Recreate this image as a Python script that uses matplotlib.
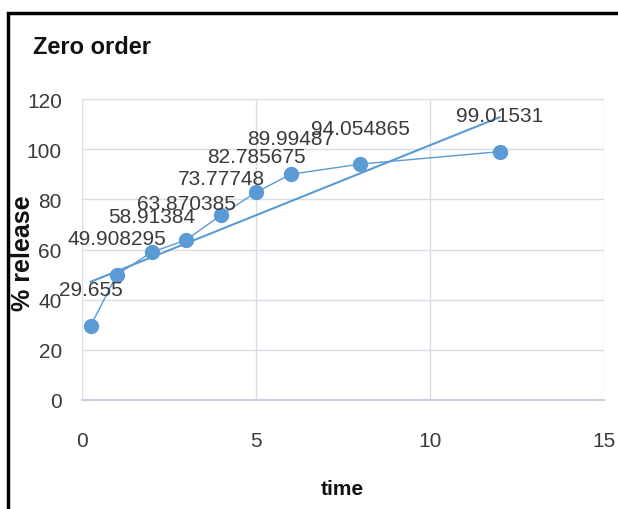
import numpy as np
import matplotlib
matplotlib.use("Agg")
import matplotlib.pyplot as plt
from matplotlib.lines import Line2D

# Release data
time = [0.25, 1, 2, 3, 4, 5, 6, 8, 12]
release = [29.655, 49.908295, 58.91384, 63.870385, 73.77748,
           82.785675, 89.99487, 94.054865, 99.01531]
value_labels = ["29.655", "49.908295", "58.91384", "63.870385", "73.77748",
                "82.785675", "89.99487", "94.054865", "99.01531"]
x_ticks = [0, 5, 10, 15]
y_ticks = [0, 20, 40, 60, 80, 100, 120]

num_font = ["Liberation Sans", "DejaVu Sans"]
bold_font = ["Liberation Sans", "DejaVu Sans"]
blue = "#5b9bd5"
grid_c = "#d9dde6"
text_c = "#3a3a3a"

fig = plt.figure(figsize=(6.18, 5.10), dpi=100)
ax = fig.add_axes([82 / 618, 1 - 401 / 510, (604 - 82) / 618, (401 - 100) / 510])

ax.set_xlim(0, 15)
ax.set_ylim(0, 120)
ax.set_xticks(x_ticks)
ax.set_yticks(y_ticks)
ax.grid(True, color=grid_c, linewidth=1.0)
ax.set_axisbelow(True)
for s in ax.spines.values():
    s.set_visible(False)
ax.spines["bottom"].set_visible(True)
ax.spines["bottom"].set_color("#c3cad8")
ax.spines["bottom"].set_linewidth(1.3)
ax.tick_params(length=0, labelsize=15, labelcolor=text_c)
ax.tick_params(axis="x", pad=22)
ax.tick_params(axis="y", pad=14.5)
for lab in ax.get_xticklabels() + ax.get_yticklabels():
    lab.set_fontfamily(num_font)

# Series with markers
ax.plot(time, release, color=blue, linewidth=1.0, marker="o",
        markersize=10, markerfacecolor=blue, markeredgecolor=blue, zorder=3)

# Linear trendline
slope, intercept = np.polyfit(time, release, 1)
tx = np.array([time[0], time[-1]])
ax.plot(tx, slope * tx + intercept, color=blue, linewidth=1.5, zorder=2)

# Data labels
for x, y, s in zip(time, release, value_labels):
    ax.annotate(s, (x, y), xytext=(0, 22), textcoords="offset points",
                ha="center", va="baseline", fontsize=15, color=text_c,
                family=num_font, zorder=4)

fig.text(33 / 618, 1 - 48 / 510, "Zero order", fontsize=17, fontweight="bold",
         family=bold_font, color="#111111", va="center", ha="left")
fig.text(23 / 618, 1 - 253 / 510, "% release", fontsize=18, fontweight="bold",
         family=bold_font, color="#111111", rotation=90, va="center", ha="center")
fig.text(342 / 618, 1 - 490 / 510, "time", fontsize=15, fontweight="bold",
         family=bold_font, color="#111111", va="center", ha="center")

# Frame around the chart
fig.add_artist(Line2D([7.5 / 618, 7.5 / 618, 1.0], [0.0, 1 - 13.5 / 510, 1 - 13.5 / 510],
                      transform=fig.transFigure, color="black", linewidth=2.5,
                      solid_joinstyle="miter"))

fig.savefig("out.png", dpi=100)
